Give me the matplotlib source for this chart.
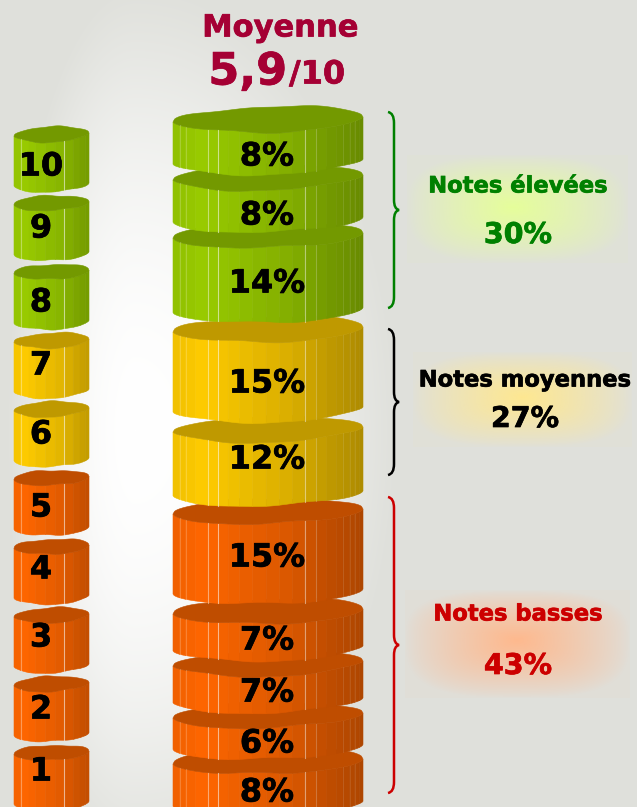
"""
Stacked "cylinders" chart: share of each mark out of 10, grouped in low / mid / high.
Everything is drawn in pixel coordinates of the 637x807 picture.
"""

import numpy as np
import matplotlib
matplotlib.use("Agg")
import matplotlib.pyplot as plt
import matplotlib.patheffects as pe
from matplotlib.colors import to_rgb
from matplotlib.patches import PathPatch
from matplotlib.path import Path

# data, top of the stack first
notes = [10, 9, 8, 7, 6, 5, 4, 3, 2, 1]
shares = [8, 8, 14, 15, 12, 15, 7, 7, 6, 8]
group_names = ["Notes élevées", "Notes moyennes", "Notes basses"]
group_sizes = [3, 2, 5]
group_colors = ["#008000", "#000000", "#CC0000"]
mean_label = "5,9"
scale_label = "/10"

# colours per note band
WALL = ["#99CC00"] * 3 + ["#FFCC00"] * 2 + ["#FF6600"] * 5
GLOW = ["#E6FF99", "#FFE88F", "#FFB88C"]

# layout, in pixels
W, H = 637, 807
BIG_X = (173, 363)
SMALL_X = (14, 89)
note_label_y = [167, 229, 303, 366, 435, 508, 570, 638, 710, 772]
share_label_y = [157, 216, 284, 384, 460, 558, 641, 693, 744, 793]
panels = [(407, 628, 155, 263), (413, 632, 352, 447), (405, 630, 590, 698)]
glow_centers = [(513, 207), (523, 397), (517, 640)]
group_text_y = [(186, 235), (380, 419), (614, 666)]
group_text_x = [518, 525, 518]
spans = [(112, 308), (329, 475), (497, 793)]

# facet edges across a disc, and the lighter seams drawn on some of them
BIG_EDGES = [0, .035, .067, .12, .184, .237, .29, .35, .42, .49, .56, .63, .693,
             .754, .81, .86, .895, .93, .956, .98, 1]
BIG_SEAMS = [(.035, .2), (.067, .2), (.184, .45), (.237, .55), (.693, .45),
             (.754, .2), (.895, .1), (.93, .1), (.956, .1)]
SMALL_EDGES = [0, .09, .2, .29, .42, .55, .67, .79, .88, .95, 1]
SMALL_SEAMS = [(.09, .35), (.67, .55)]


def lump(u, phase, amp):
    # irregular outline of the hand-cut looking discs, pinned at both ends
    wave = np.sin(3.5 * u + phase) + 0.5 * np.sin(8 * u + 2.1 * phase)
    return amp * wave * (1 - u ** 2) ** 0.5


def shade(color, k):
    return tuple(np.array(to_rgb(color)) * k)


def draw_disk(ax, x0, x1, top, height, ry, color, phase, edges, seams, depth=1.0):
    cx, rx = (x0 + x1) / 2, (x1 - x0) / 2
    amp = ry * 0.1
    wall = height - 2 * ry

    def corner(u, y0):
        return y0 + ry - ry * 0.2 * u

    def front(u, y0, p):
        return corner(u, y0) + ry * (1 - u ** 2) ** 0.6 + lump(u, p, amp)

    edges = 2 * np.array(edges) - 1
    for a, b in zip(edges[:-1], edges[1:]):
        f = ((a + b) / 2 + 1) / 2
        k = np.interp(f, [0, .18, .25, .45, .63, .8, 1], [.94, 1, .96, .9, .85, .76, .68])
        k = 1 - (1 - k) * depth
        u = np.linspace(a, b, 8)
        xs = np.r_[cx + rx * u, cx + rx * u[::-1]]
        ys = np.r_[front(u, top, phase), front(u[::-1], top + wall, phase + 1.3)]
        ax.fill(xs, ys, color=shade(color, k), lw=0.4)

    for f, alpha in seams:
        u = np.array([2 * f - 1])
        ax.plot([cx + rx * u[0]] * 2,
                [front(u, top, phase)[0], front(u, top + wall, phase + 1.3)[0]],
                color="white", lw=0.8, alpha=alpha)

    u = np.linspace(-1, 1, 120)
    back = corner(u, top) - ry * (1 - u ** 2) ** 0.45 + lump(u, phase + 2.4, amp)
    ax.fill(np.r_[cx + rx * u, cx + rx * u[::-1]],
            np.r_[back, front(u[::-1], top, phase)],
            color=shade(color, 0.75), lw=0.4)


def draw_brace(ax, x, y0, y1, color):
    mid = (y0 + y1) / 2
    spine, tip = x + 6, x + 11
    verts = [(x, y0), (spine, y0 + 1), (spine, y0 + 11), (spine, mid - 10),
             (spine, mid - 1), (tip, mid), (spine, mid + 1), (spine, mid + 10),
             (spine, y1 - 11), (spine, y1 - 1), (x, y1)]
    codes = [Path.MOVETO, Path.CURVE3, Path.CURVE3, Path.LINETO,
             Path.CURVE3, Path.CURVE3, Path.CURVE3, Path.CURVE3,
             Path.LINETO, Path.CURVE3, Path.CURVE3]
    ax.add_patch(PathPatch(Path(verts, codes), fc="none", ec=color, lw=1.8, zorder=2))


def background(ax):
    yy, xx = np.mgrid[0:H, 0:W]
    rx = np.where(xx < 135, 130, 265)
    r2 = ((xx - 135) / rx) ** 2 + ((yy - 430) / 450) ** 2
    t = np.clip(1 - r2, 0, 1)[..., None] ** 1.2
    base = np.array(to_rgb("#DFE0DB"))
    ax.imshow(base + (1 - base) * t, extent=(0, W, H, 0), aspect="auto", zorder=0)


def glow(ax, box, center, color):
    x0, x1, y0, y1 = box
    cx, cy = center
    yy, xx = np.mgrid[y0:y1:110j, x0:x1:220j]
    dx = np.abs(xx - cx) / np.where(xx < cx, cx - x0, x1 - cx)
    dy = np.abs(yy - cy) / np.where(yy < cy, cy - y0, y1 - cy)
    r = (dx ** 3 + dy ** 3) ** (1 / 3)
    img = np.zeros(r.shape + (4,))
    img[..., :3] = to_rgb(color)
    img[..., 3] = np.clip(1 - r, 0, 1) ** 0.85 * 0.93 + 0.05
    ax.imshow(img, extent=(x0, x1, y1, y0), aspect="auto", zorder=1)


def label(ax, x, y, text, size, color, ha="center"):
    # the source font is heavier than DejaVu Bold, a thin stroke makes up for it
    ax.text(x, y, text, ha=ha, va="center", fontsize=size, fontweight="bold", color=color,
            zorder=3, path_effects=[pe.withStroke(linewidth=0.5, foreground=color)])


def main():
    fig = plt.figure(figsize=(W / 100, H / 100), dpi=100)
    ax = fig.add_axes([0, 0, 1, 1])
    background(ax)

    # disc height follows the share, plus a constant for the visible top face
    tops = [107.0]
    for s in shares[:-1]:
        tops.append(tops[-1] + 6 * s + 10)
    heights = [5.4 * s + 24 for s in shares]

    # upper discs overlap the ones below, so paint from the bottom up
    for i in reversed(range(len(notes))):
        draw_disk(ax, *BIG_X, tops[i], heights[i], 12.5, WALL[i], 0.7 + 1.9 * i,
                  BIG_EDGES, BIG_SEAMS)
        draw_disk(ax, *SMALL_X, 127 + 68.7 * i, 65, 7.5, WALL[i], 2.0 + 1.7 * i,
                  SMALL_EDGES, SMALL_SEAMS, depth=0.75)
    for i, n in enumerate(notes):
        label(ax, 41, note_label_y[i], str(n), 23, "black")
        label(ax, 267, share_label_y[i], f"{shares[i]}%", 23, "black")

    # groups: brace, glow panel, name and summed share
    start = 0
    for g, name in enumerate(group_names):
        total = sum(shares[start:start + group_sizes[g]])
        start += group_sizes[g]
        draw_brace(ax, 388, *spans[g], group_colors[g])
        glow(ax, panels[g], glow_centers[g], GLOW[g])
        label(ax, group_text_x[g], group_text_y[g][0], name, 16.3, group_colors[g])
        label(ax, group_text_x[g], group_text_y[g][1], f"{total}%", 20.5, group_colors[g])

    crimson = "#A50034"
    label(ax, 280, 28, "Moyenne", 22, crimson)
    label(ax, 287, 72, mean_label, 32, crimson, ha="right")
    label(ax, 289, 75, scale_label, 23, crimson, ha="left")

    ax.set_xlim(0, W)
    ax.set_ylim(H, 0)
    ax.axis("off")
    fig.savefig("out.png", dpi=100)


if __name__ == "__main__":
    main()
